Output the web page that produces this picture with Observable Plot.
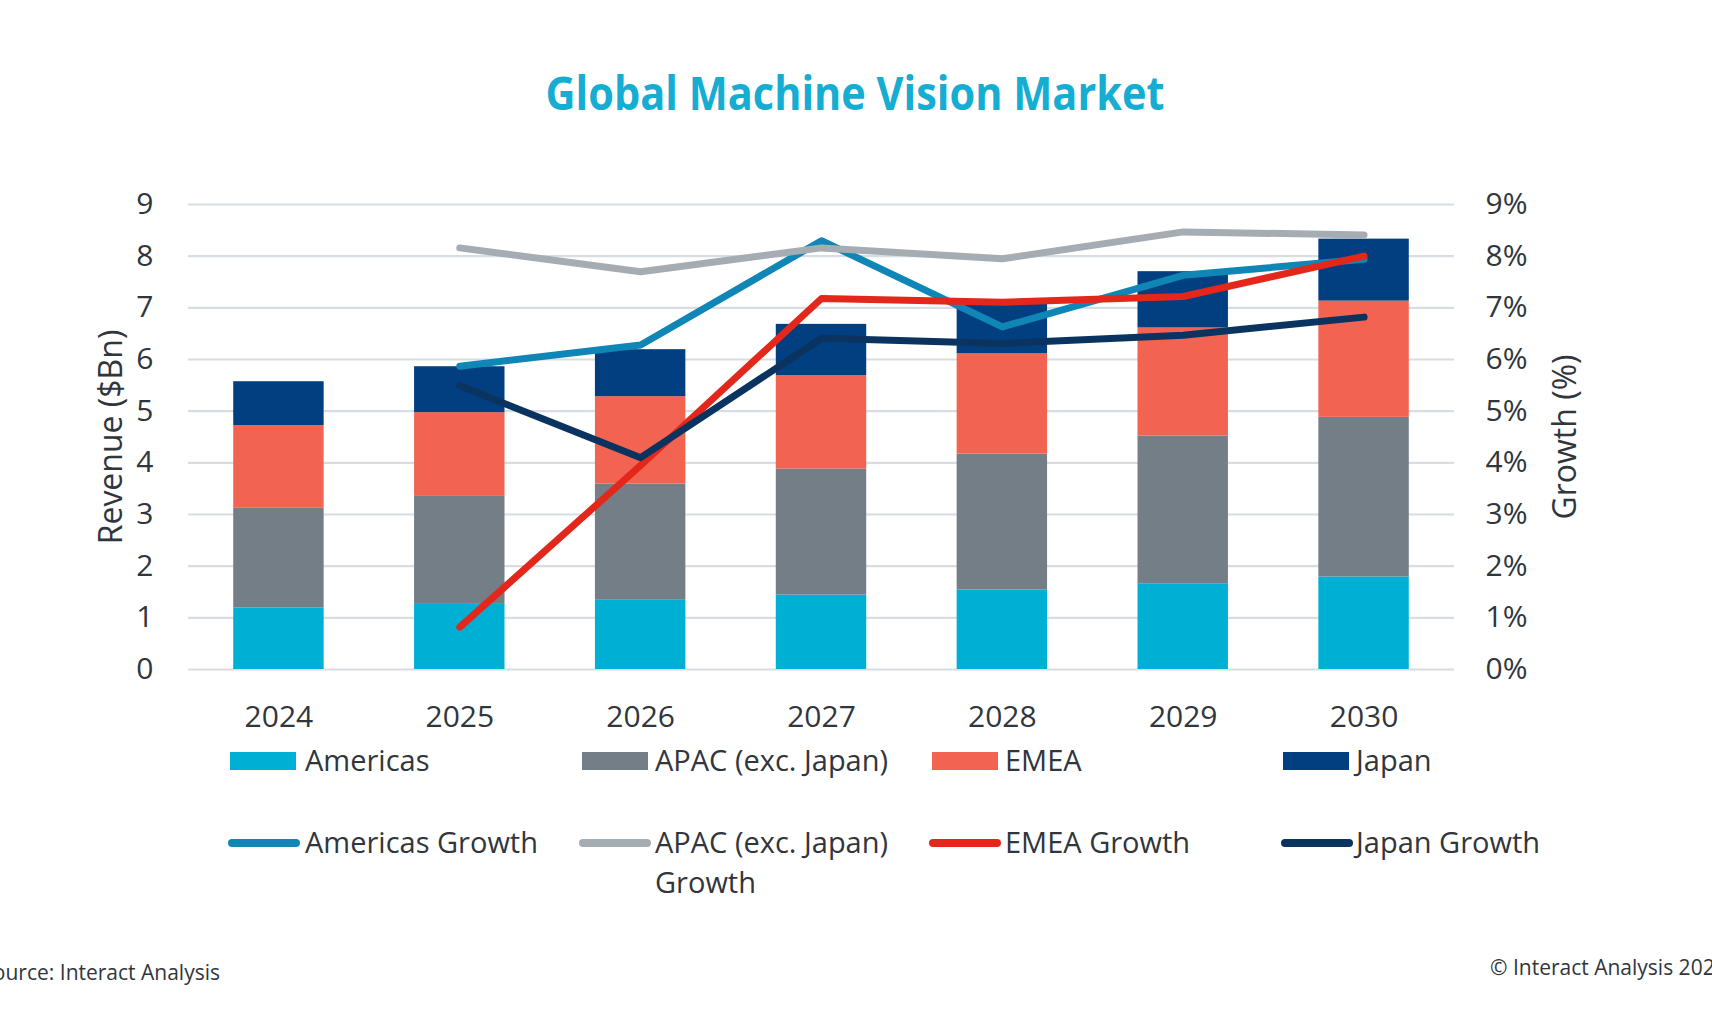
<!DOCTYPE html>
<html>
<head>
<meta charset="utf-8">
<script src="https://cdn.jsdelivr.net/npm/d3@7"></script>
<script src="https://cdn.jsdelivr.net/npm/@observablehq/plot@0.6"></script>
<style>
  html, body { margin: 0; padding: 0; background: #fff; overflow: hidden; }
  #wrap { position: relative; width: 1712px; height: 1010px; overflow: hidden; font-family: "Open Sans", "Noto Sans", sans-serif; color: #30363c; }
  #chart { position: absolute; left: 0; top: 0; }
  .abs { position: absolute; white-space: nowrap; }
  .leg { font-size: 29px; line-height: 40px; }
</style>
</head>
<body>
<div id="wrap">
  <svg class="abs" style="left:0;top:0" width="1712" height="140">
    <text id="title" x="855" y="110" text-anchor="middle" font-family="Open Sans" font-weight="700" font-size="46" fill="#16add3" textLength="619" lengthAdjust="spacingAndGlyphs">Global Machine Vision Market</text>
  </svg>
  <div id="chart"></div>
</div>
<script>
const years = ["2024", "2025", "2026", "2027", "2028", "2029", "2030"];
const regions = ["Americas", "APAC (exc. Japan)", "EMEA", "Japan"];
const regionColors = ["#00b0d4", "#737e86", "#f26451", "#023f80"];

// Revenue by region ($Bn)
const americas = [1.19, 1.26, 1.34, 1.44, 1.54, 1.66, 1.79];
const apac     = [1.93, 2.09, 2.25, 2.44, 2.63, 2.86, 3.09];
const emea     = [1.60, 1.62, 1.69, 1.81, 1.94, 2.09, 2.25];
const japan    = [0.85, 0.89, 0.91, 0.99, 0.97, 1.09, 1.20];

// Growth (%) 2025-2030
const growthYears = ["2025", "2026", "2027", "2028", "2029", "2030"];
const americasGrowth = [5.87, 6.28, 8.30, 6.63, 7.63, 7.94];
const apacGrowth     = [8.16, 7.70, 8.16, 7.95, 8.47, 8.41];
const emeaGrowth     = [0.82, 3.95, 7.18, 7.11, 7.22, 8.00];
const japanGrowth    = [5.49, 4.10, 6.41, 6.31, 6.47, 6.82];

const growthNames = ["Americas Growth", "APAC (exc. Japan) Growth", "EMEA Growth", "Japan Growth"];
const growthColors = ["#0f86b6", "#a5acb2", "#e3281b", "#0b3360"];

const yTicks = [0, 1, 2, 3, 4, 5, 6, 7, 8, 9];

const revenue = [americas, apac, emea, japan];
const bars = [];
regions.forEach((r, k) => years.forEach((y, i) => bars.push({year: y, region: r, value: revenue[k][i]})));

const growth = [americasGrowth, apacGrowth, emeaGrowth, japanGrowth];
const growthRows = growth.map((arr, k) => growthYears.map((y, i) => ({year: y, value: arr[i], series: growthNames[k]})));

const chart = Plot.plot({
  width: 1712,
  height: 760,
  marginLeft: 188,
  marginRight: 258,
  marginTop: 204,
  marginBottom: 91,
  style: {fontSize: "30px", fontFamily: "Open Sans, sans-serif", color: "#30363c", background: "transparent"},
  x: {domain: years, paddingInner: 0.5, paddingOuter: 0.25, round: false, axis: null},
  y: {domain: [0, 9], axis: null},
  color: {domain: regions, range: regionColors},
  marks: [
    Plot.ruleY(yTicks, {stroke: "#d8dde3", strokeWidth: 2.2}),
    Plot.barY(bars, {x: "year", y: "value", fill: "region", order: regions}),
    ...growthRows.map((rows, k) => Plot.line(rows, {x: "year", y: "value", stroke: growthColors[k], strokeWidth: 7, strokeLinecap: "round", strokeLinejoin: "round"})),
    Plot.axisX({domain: years, tickSize: 0, tickPadding: 36, label: null}),
    Plot.axisY({anchor: "left", ticks: yTicks, tickSize: 0, tickPadding: 35, label: null}),
    Plot.axisY({anchor: "right", ticks: yTicks, tickSize: 0, tickPadding: 31, label: null, tickFormat: d => d + "%"})
  ]
});
document.getElementById("chart").appendChild(chart);

const wrap = document.getElementById("wrap");
function add(html, style, cls) {
  const d = document.createElement("div");
  d.className = "abs " + (cls || "");
  d.innerHTML = html;
  Object.assign(d.style, style);
  wrap.appendChild(d);
  return d;
}

// Axis titles
add("Revenue ($Bn)", {left: "109px", top: "437px", fontSize: "32px", transform: "translate(-50%,-50%) rotate(-90deg)"});
add("Growth (%)", {left: "1563px", top: "437px", fontSize: "32px", transform: "translate(-50%,-50%) rotate(-90deg)"});

// Legend row 1 (bars)
const swX = [230, 582, 932, 1283];
const txX = [305, 655, 1005, 1356];
regions.forEach((r, k) => {
  add("", {left: swX[k] + "px", top: "752px", width: "66px", height: "18px", background: regionColors[k]});
  add(r, {left: txX[k] + "px", top: "740px"}, "leg");
});
// Legend row 2 (lines)
const lnX = [228, 579, 929, 1281];
growthNames.forEach((n, k) => {
  add("", {left: lnX[k] + "px", top: "839px", width: "72px", height: "8px", borderRadius: "4px", background: growthColors[k]});
  const label = k === 1 ? "APAC (exc. Japan)<br>Growth" : n;
  add(label, {left: txX[k] + "px", top: "822px"}, "leg");
});

// Footer
add("Source: Interact Analysis", {left: "220px", top: "958px", fontSize: "21px", transform: "translateX(-100%)"});
add("© Interact Analysis 2024", {left: "1490px", top: "953px", fontSize: "21px"});
</script>
</body>
</html>
